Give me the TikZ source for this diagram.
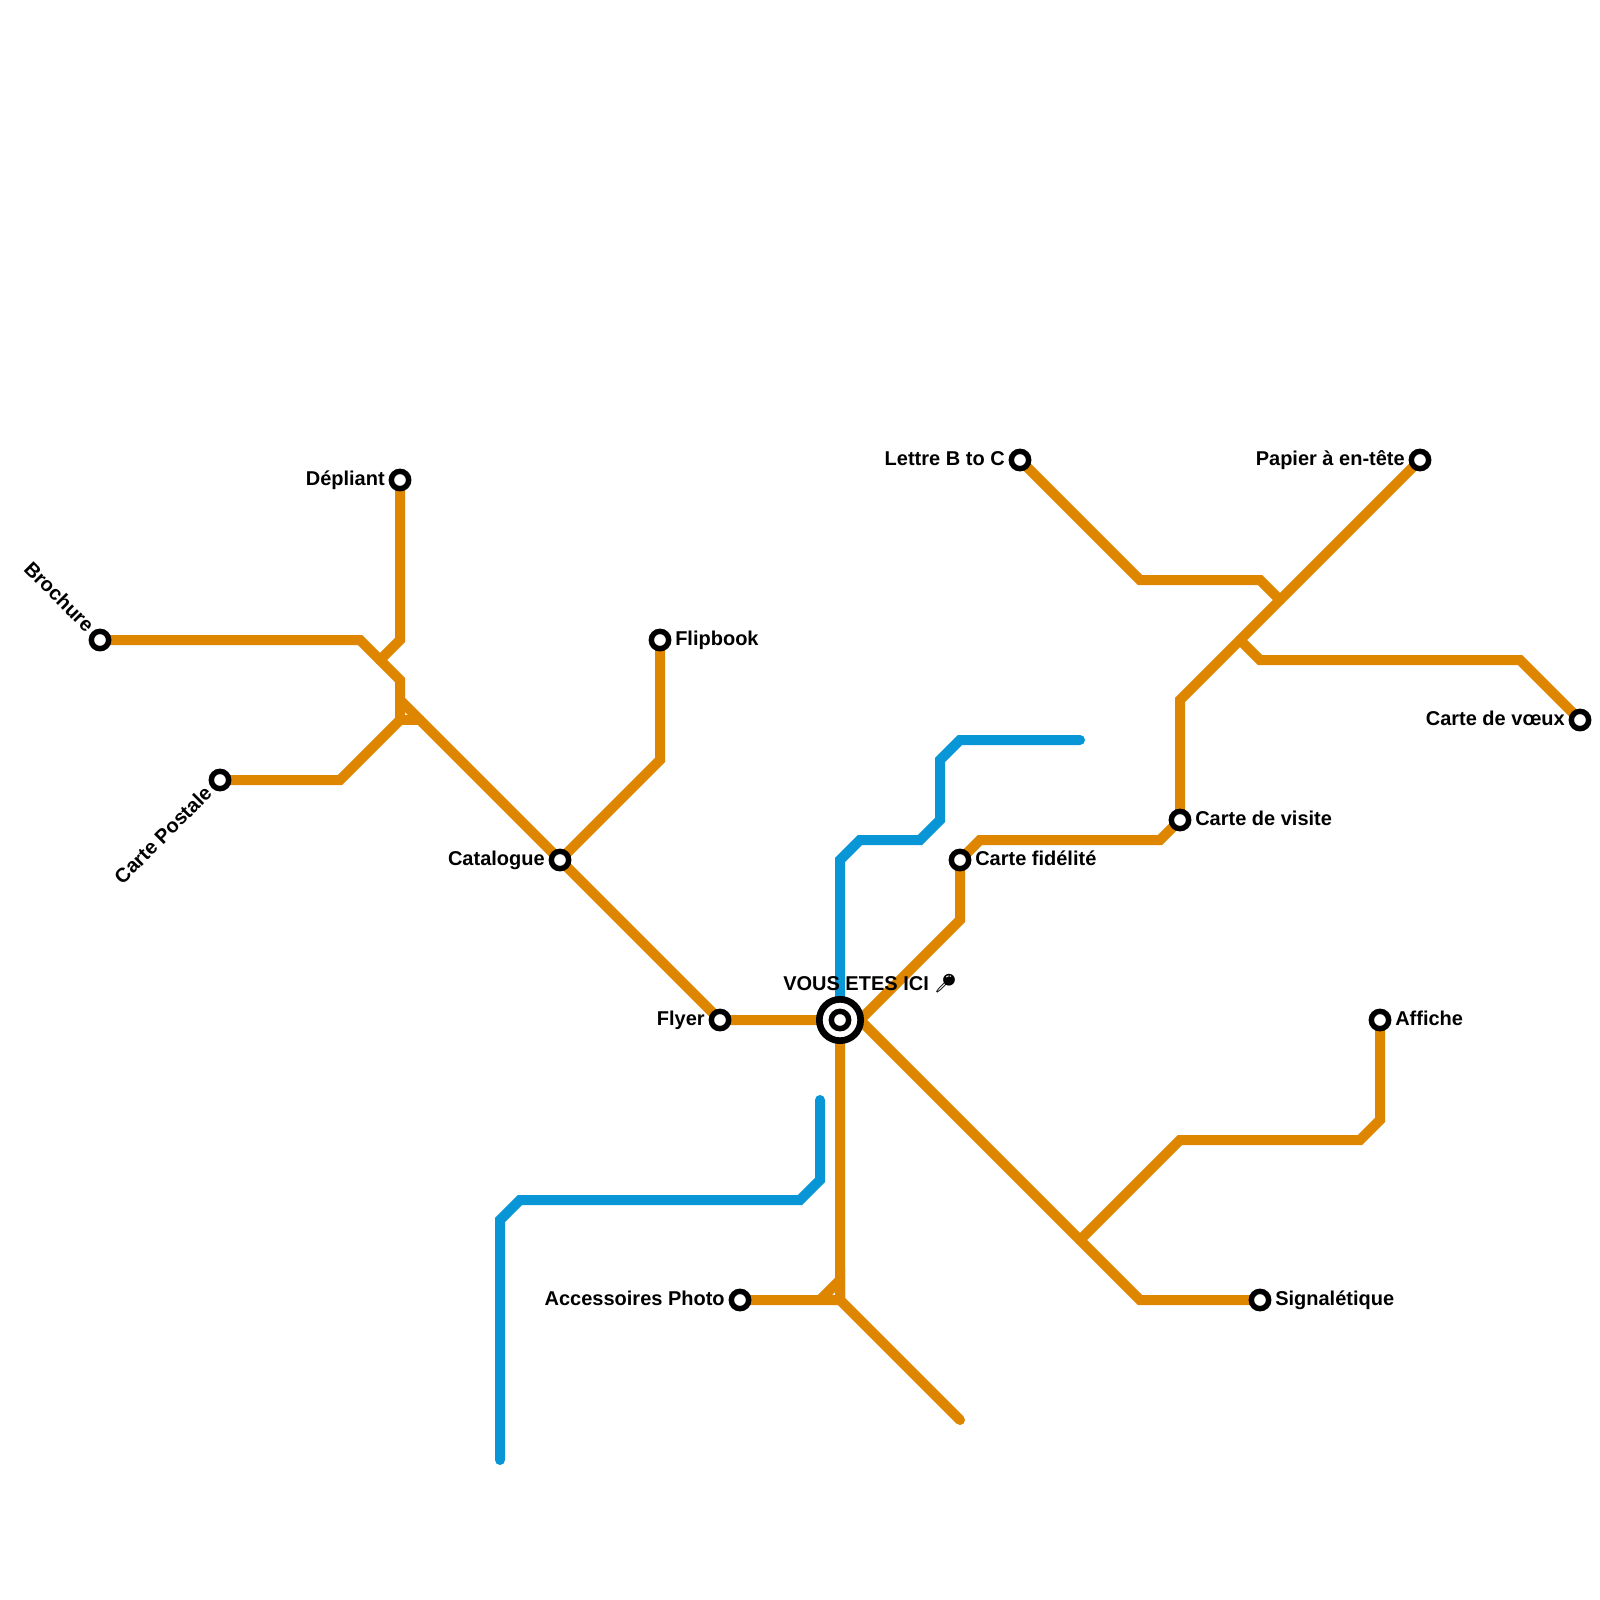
\documentclass[tikz,border=0pt]{standalone}
\usepackage{fontspec}
\setmainfont{Liberation Sans}
\newfontfamily\emojifont{Noto Emoji}
\definecolor{lineorange}{HTML}{DF8600}
\definecolor{lineblue}{HTML}{0896D7}
\tikzset{
  orangeline/.style={draw=lineorange,line width=7.5pt,line cap=round,line join=miter},
  blueline/.style={draw=lineblue,line width=7.5pt,line cap=round,line join=miter},
  station/.style={circle,draw=black,fill=white,line width=4.1pt,minimum size=13pt,inner sep=0pt},
  hubouter/.style={circle,draw=black,fill=white,line width=5pt,minimum size=31pt,inner sep=0pt},
  lab/.style={font=\bfseries\fontsize{15pt}{18pt}\selectfont,inner sep=0pt,text=black},
}
\begin{document}
\begin{tikzpicture}[x=0.75pt,y=-0.75pt]
\useasboundingbox (0,0) rectangle (1600,1600);
\fill[white] (0,0) rectangle (1600,1600);
% coordinates
\coordinate (sBro) at (100,640);
\coordinate (sDep) at (400,480);
\coordinate (sCP) at (220,780);
\coordinate (sCat) at (560,860);
\coordinate (sFlip) at (660,640);
\coordinate (sFly) at (720,1020);
\coordinate (sHub) at (840,1020);
\coordinate (sAcc) at (740,1300);
\coordinate (sFid) at (960,860);
\coordinate (sVis) at (1180,820);
\coordinate (sLet) at (1020,460);
\coordinate (sPap) at (1420,460);
\coordinate (sVoe) at (1580,720);
\coordinate (sAff) at (1380,1020);
\coordinate (sSig) at (1260,1300);
\coordinate (hubNE) at (860,1020);
\coordinate (hubB) at (840,1300);
\coordinate (forkA) at (1080,1240);
\coordinate (b1) at (360,640);
\coordinate (b2) at (400,680);
\coordinate (b3) at (400,720);
\coordinate (b4) at (340,780);
\coordinate (b5) at (420,720);
\coordinate (b6) at (400,640);
\coordinate (b7) at (380,660);
\coordinate (b8) at (400,700);
\coordinate (f1) at (660,760);
\coordinate (r1) at (960,920);
\coordinate (r2) at (980,840);
\coordinate (r3) at (1160,840);
\coordinate (r4) at (1180,700);
\coordinate (l1) at (1140,580);
\coordinate (l2) at (1260,580);
\coordinate (l3) at (1280,600);
\coordinate (v0) at (1240,640);
\coordinate (v1) at (1260,660);
\coordinate (v2) at (1520,660);
\coordinate (a1) at (1180,1140);
\coordinate (a2) at (1360,1140);
\coordinate (a3) at (1380,1120);
\coordinate (g1) at (1140,1300);
\coordinate (e1) at (960,1420);
\coordinate (e2) at (820,1300);
\coordinate (e3) at (840,1280);
\coordinate (c1) at (840,860);
\coordinate (c2) at (860,840);
\coordinate (c3) at (920,840);
\coordinate (c4) at (940,820);
\coordinate (c5) at (940,760);
\coordinate (c6) at (960,740);
\coordinate (c7) at (1080,740);
\coordinate (d1) at (820,1100);
\coordinate (d2) at (820,1180);
\coordinate (d3) at (800,1200);
\coordinate (d4) at (520,1200);
\coordinate (d5) at (500,1220);
\coordinate (d6) at (500,1460);
% blue lines
\draw[blueline] (sHub) -- (c1) -- (c2) -- (c3) -- (c4) -- (c5) -- (c6) -- (c7);
\draw[blueline] (d1) -- (d2) -- (d3) -- (d4) -- (d5) -- (d6);
% orange lines
\draw[orangeline] (sBro) -- (b1) -- (b2) -- (b3) -- (b4) -- (sCP);
\draw[orangeline] (b3) -- (b5);
\draw[orangeline] (sDep) -- (b6) -- (b7);
\draw[orangeline] (b8) -- (sCat) -- (sFly) -- (sHub);
\draw[orangeline] (sCat) -- (f1) -- (sFlip);
\draw[orangeline] (hubNE) -- (r1) -- (sFid) -- (r2) -- (r3) -- (sVis) -- (r4) -- (sPap);
\draw[orangeline] (sLet) -- (l1) -- (l2) -- (l3);
\draw[orangeline] (v0) -- (v1) -- (v2) -- (sVoe);
\draw[orangeline] (hubNE) -- (forkA) -- (g1) -- (sSig);
\draw[orangeline] (forkA) -- (a1) -- (a2) -- (a3) -- (sAff);
\draw[orangeline] (sHub) -- (hubB) -- (e1);
\draw[orangeline] (sAcc) -- (hubB) -- (e3) -- (e2);
% stations
\foreach \s in {Bro,Dep,CP,Cat,Flip,Fly,Acc,Fid,Vis,Let,Pap,Voe,Aff,Sig}
  \node[station] (n\s) at (s\s) {};
\node[hubouter] (nHub) at (sHub) {};
\node[station] (nHubIn) at (sHub) {};
% labels
\node[lab,anchor=base east,rotate=-45] (tBro) at (86,633.3) {Brochure};
\node[lab,anchor=base east] (tDep) at (385,485.3) {Dépliant};
\node[lab,anchor=base east,rotate=45] (tCP) at (213.3,794.5) {Carte Postale};
\node[lab,anchor=base east] (tCat) at (545,865.3) {Catalogue};
\node[lab,anchor=base west] (tFlip) at (675,645.3) {Flipbook};
\node[lab,anchor=base east] (tFly) at (705,1025.3) {Flyer};
\node[lab,anchor=base east] (tAcc) at (725,1305.3) {Accessoires Photo};
\node[lab,anchor=base west] (tFid) at (975,865.3) {Carte fidélité};
\node[lab,anchor=base west] (tVis) at (1195,825.3) {Carte de visite};
\node[lab,anchor=base east] (tLet) at (1005,465.3) {Lettre B to C};
\node[lab,anchor=base east] (tPap) at (1405,465.3) {Papier à en-tête};
\node[lab,anchor=base east] (tVoe) at (1565,725.3) {Carte de vœux};
\node[lab,anchor=base west] (tAff) at (1395,1025.3) {Affiche};
\node[lab,anchor=base west] (tSig) at (1275,1305.3) {Signalétique};
\node[lab,anchor=base west] (tHub) at (783,990.3) {VOUS ETES ICI};
\node[lab,rotate=-45,scale=1.15] (tPin) at (945,984) {\emojifont\symbol{"1F4CD}};
\end{tikzpicture}
\end{document}
